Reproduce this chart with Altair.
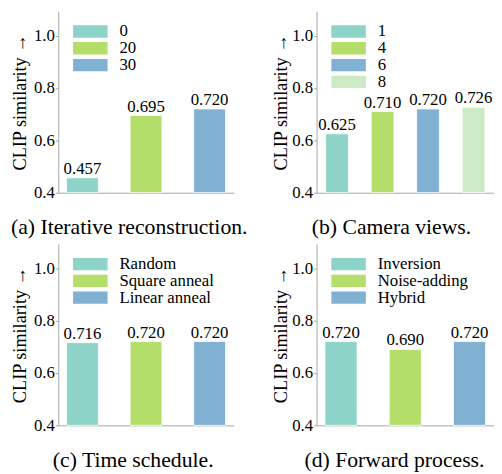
import altair as alt
import pandas as pd

FONT = "Liberation Serif"
PALETTE = ["#8dd3c7", "#b3de69", "#80b1d3", "#ccebc5"]
AXIS_GRAY = "#a8a8a8"

# data
a_labels = ["0", "20", "30"]
a_values = [0.457, 0.695, 0.720]
b_labels = ["1", "4", "6", "8"]
b_values = [0.625, 0.710, 0.720, 0.726]
c_labels = ["Random", "Square anneal", "Linear anneal"]
c_values = [0.716, 0.720, 0.720]
d_labels = ["Inversion", "Noise-adding", "Hybrid"]
d_values = [0.720, 0.690, 0.720]

y_ticks = [0.4, 0.6, 0.8, 1.0]
y_domain = [0.4, 1.093]
y_title = "CLIP similarity →"

SYMBOL = "M-2.8,-1H2.8V1H-2.8Z"
TITLE_SIZE = 18.5


def panel(labels, values, caption, width, pad_outer, dx, title_pad):
    df = pd.DataFrame({
        "cat": labels,
        "val": values,
        "lbl": [f"{v:.3f}" for v in values],
    })
    x = alt.X(
        "cat:N", sort=labels,
        scale=alt.Scale(paddingInner=0.5, paddingOuter=pad_outer),
        axis=alt.Axis(labels=False, ticks=False, title=None,
                      domainColor=AXIS_GRAY, domainWidth=1),
    )
    y = alt.Y(
        "val:Q",
        scale=alt.Scale(domain=y_domain, nice=False, zero=False),
        axis=alt.Axis(values=y_ticks, format=".1f", title=y_title,
                      labelFont=FONT, labelFontSize=17, labelColor="black",
                      labelPadding=1, tickSize=3, tickColor=AXIS_GRAY,
                      domainColor=AXIS_GRAY, grid=False,
                      titleFont=FONT, titleFontSize=TITLE_SIZE, titleFontWeight="normal",
                      titleColor="black", titlePadding=title_pad),
    )
    color = alt.Color(
        "cat:N", sort=labels,
        scale=alt.Scale(domain=labels, range=PALETTE[:len(labels)]),
        legend=alt.Legend(
            orient="none", legendX=24, legendY=12, title=None,
            symbolType=SYMBOL, symbolSize=156, symbolStrokeWidth=0,
            symbolOpacity=1,
            labelFont=FONT, labelFontSize=17, labelColor="black",
            labelOffset=21, rowPadding=-1, padding=0,
        ),
    )
    bars = alt.Chart(df).mark_bar(stroke="white", strokeWidth=0.8, opacity=1).encode(
        x=x, y=y, y2=alt.datum(0.4), color=color
    )
    text = alt.Chart(df).mark_text(
        baseline="alphabetic", dy=-4, font=FONT, fontSize=17, color="black"
    ).encode(x=x, y=y, text="lbl:N")
    return alt.layer(bars, text).properties(
        width=width, height=184,
        title=alt.TitleParams(caption, orient="bottom", anchor="middle", frame="group",
                              font=FONT, fontSize=22, fontWeight="normal",
                              color="black", baseline="alphabetic", offset=34, dx=dx),
    )


pa = panel(a_labels, a_values, "(a) Iterative reconstruction.", 178, 0.13, -17, 4)
pb = panel(b_labels, b_values, "(b) Camera views.", 180, 0.2, -14, 1)
pc = panel(c_labels, c_values, "(c) Time schedule.", 178, 0.13, -13, 4)
pd_ = panel(d_labels, d_values, "(d) Forward process.", 180, 0.13, -11, 1)

chart = alt.concat(pa, pb, pc, pd_, columns=2, spacing={"row": 52, "column": 84},
                   bounds="flush").resolve_scale(
    color="independent", x="independent"
).resolve_legend(color="independent").properties(
    padding={"left": 2, "top": 0, "right": 0, "bottom": 0},
).configure(background="white", font=FONT).configure_view(stroke=None).configure_axis(
    labelFont=FONT, titleFont=FONT, labelFontSize=17, titleFontSize=TITLE_SIZE
)

chart.save("out.html", embed_options={"renderer": "svg", "actions": False})
